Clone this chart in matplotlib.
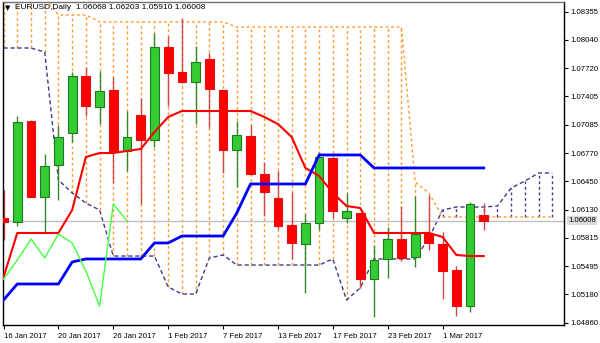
import matplotlib.pyplot as plt
import numpy as np

plt.rcParams['font.family'] = ['Liberation Sans', 'DejaVu Sans']

# daily bars, 16 Jan 2017 .. 6 Mar 2017
opens = [1.06040, 1.05995, 1.07130, 1.06276, 1.06635, 1.06995, 1.07636, 1.07287, 1.07478,
         1.06793, 1.07197, 1.06916, 1.07962, 1.07681, 1.07568, 1.07827, 1.07478, 1.06804,
         1.06961, 1.06534, 1.06264, 1.05961, 1.05747, 1.05983, 1.06714, 1.06040, 1.06096,
         1.05354, 1.05579, 1.05804, 1.05601, 1.05860, 1.05747, 1.05455, 1.05050, 1.06068]
highs = [1.06354, 1.07186, 1.07141, 1.06759, 1.07085, 1.07681, 1.07737, 1.07692, 1.07624,
         1.07242, 1.07388, 1.08119, 1.08085, 1.08288, 1.07973, 1.07894, 1.07478, 1.07130,
         1.07085, 1.06669, 1.06568, 1.06332, 1.06085, 1.06781, 1.06725, 1.06321, 1.06096,
         1.05736, 1.05938, 1.06174, 1.06287, 1.06298, 1.05882, 1.05500, 1.06219, 1.06203]
lows = [1.05792, 1.05950, 1.06270, 1.05871, 1.06242, 1.06894, 1.07186, 1.07096, 1.06433,
        1.06568, 1.06197, 1.06838, 1.07298, 1.07560, 1.07096, 1.07051, 1.06545, 1.06388,
        1.06525, 1.06062, 1.05916, 1.05579, 1.05197, 1.05905, 1.06040, 1.05983, 1.05253,
        1.04927, 1.05365, 1.05556, 1.05489, 1.05680, 1.05129, 1.04938, 1.04983, 1.05910]
closes = [1.05995, 1.07119, 1.06276, 1.06624, 1.06950, 1.07636, 1.07298, 1.07467, 1.06793,
          1.06950, 1.06916, 1.07962, 1.07669, 1.07568, 1.07793, 1.07490, 1.06804, 1.06972,
          1.06534, 1.06332, 1.05950, 1.05759, 1.05983, 1.06725, 1.06118, 1.06118, 1.05354,
          1.05567, 1.05804, 1.05590, 1.05860, 1.05759, 1.05444, 1.05050, 1.06197, 1.06008]

tenkan = [1.05376, 1.05871, 1.05871, 1.05871, 1.05871, 1.06129, 1.06725, 1.06770, 1.06770,
          1.06793, 1.06815, 1.07006, 1.07175, 1.07242, 1.07242, 1.07242, 1.07242, 1.07242,
          1.07242, 1.07175, 1.07096, 1.06950, 1.06602, 1.06512, 1.06321, 1.06174, 1.06152,
          1.05871, 1.05871, 1.05871, 1.05871, 1.05871, 1.05826, 1.05624, 1.05612, 1.05612]
kijun = [1.05118, 1.05298, 1.05298, 1.05298, 1.05298, 1.05545, 1.05579, 1.05579, 1.05579,
         1.05579, 1.05579, 1.05759, 1.05759, 1.05837, 1.05837, 1.05837, 1.05837, 1.06096,
         1.06422, 1.06422, 1.06422, 1.06422, 1.06422, 1.06748, 1.06748, 1.06748, 1.06748,
         1.06602, 1.06602, 1.06602, 1.06602, 1.06602, 1.06602, 1.06602, 1.06602, 1.06602]
# cloud runs 5 bars past the last candle
span_a = [1.08520, 1.08520, 1.08520, 1.08520, 1.08321, 1.08321, 1.08321, 1.08243, 1.08243,
          1.08243, 1.08243, 1.08243, 1.08243, 1.08243, 1.08243, 1.08243, 1.08243, 1.08186,
          1.08186, 1.08186, 1.08186, 1.08186, 1.08186, 1.08186, 1.08186, 1.08186, 1.08186,
          1.08186, 1.08186, 1.08186, 1.06444, 1.06321, 1.06051, 1.06051, 1.06051, 1.06051,
          1.06051, 1.06051, 1.06051, 1.06051, 1.06051]
span_b = [1.07950, 1.07950, 1.07950, 1.07905, 1.06467, 1.06321, 1.06208, 1.06129, 1.05612,
          1.05612, 1.05612, 1.05612, 1.05264, 1.05185, 1.05185, 1.05590, 1.05624, 1.05511,
          1.05511, 1.05511, 1.05511, 1.05511, 1.05511, 1.05511, 1.05579, 1.05118, 1.05253,
          1.05579, 1.05579, 1.05579, 1.05579, 1.05815, 1.06129, 1.06163, 1.06163, 1.06163,
          1.06174, 1.06377, 1.06455, 1.06545, 1.06545]

date_labels = ["16 Jan 2017", "20 Jan 2017", "26 Jan 2017", "1 Feb 2017", "7 Feb 2017",
               "13 Feb 2017", "17 Feb 2017", "23 Feb 2017", "1 Mar 2017"]
price_ticks = [1.08355, 1.08040, 1.07720, 1.07405, 1.07085, 1.06770, 1.06450, 1.06130,
               1.05815, 1.05495, 1.05180, 1.04860]
bid = 1.06008
chikou_shift = 26

fig = plt.figure(figsize=(6, 3.43), dpi=100)
ax = fig.add_axes([3 / 600, 18 / 343, 561 / 600, 323 / 343])

n = len(closes)
x = np.arange(n)
xc = np.arange(len(span_a))
sa = np.array(span_a)
sb = np.array(span_b)

# cloud: dotted verticals between the spans
up = sa >= sb
ax.vlines(xc[up], sb[up], sa[up], colors='#ff9a2e', linestyles=(0, (2, 2)), lw=1, zorder=1)
ax.vlines(xc[~up], sa[~up], sb[~up], colors='#3c3c8c', linestyles=(0, (2, 2)), lw=1, zorder=1)
ax.plot(xc, sa, color='#ff9a2e', ls=(0, (2, 2)), lw=1, zorder=1)
ax.plot(xc, sb, color='#3c3c8c', ls=(0, (3, 2)), lw=1, zorder=1)

ax.axhline(bid, color='#c0c0c0', lw=1, zorder=1.5)

# candles
o = np.array(opens)
c = np.array(closes)
bull = c >= o
ax.vlines(x[bull], np.array(lows)[bull], np.array(highs)[bull], color='#2e8b2e', lw=1, zorder=2)
ax.vlines(x[~bull], np.array(lows)[~bull], np.array(highs)[~bull], color='#d04848', lw=1, zorder=2)
body_lo = np.minimum(o, c)
body_h = np.maximum(np.abs(c - o), 0.00004)
ax.bar(x[bull], body_h[bull], 0.64, bottom=body_lo[bull], color='#33cc33',
       edgecolor='#1f7a1f', lw=0.8, zorder=3)
ax.bar(x[~bull], body_h[~bull], 0.64, bottom=body_lo[~bull], color='#ff0000',
       edgecolor='#e01010', lw=0.8, zorder=3)

# ichimoku lines
ax.plot(x, tenkan, color='#ff0000', lw=1.5, zorder=4)
ax.plot(x, kijun, color='#0000ff', lw=2, zorder=4)
chikou = closes[chikou_shift:]
ax.plot(np.arange(len(chikou)), chikou, color='#44ff44', lw=1, zorder=4)

ax.set_xlim(-0.04, 40.85)
ax.set_ylim(1.04837, 1.08467)

ax.set_xticks(x[::4][:len(date_labels)], date_labels, ha='left')
ax.yaxis.tick_right()
ax.set_yticks(price_ticks, [f"{p:.5f}" for p in price_ticks])
ax.tick_params(axis='both', labelsize=5.6, length=3, width=0.8, color='black', pad=1.5)
ax.tick_params(axis='x', pad=2.5)
for lab in ax.get_yticklabels():
    lab.set_horizontalalignment('left')

for s in ax.spines.values():
    s.set_color('black')
    s.set_linewidth(1)
ax.spines['top'].set_color('#707070')

ax.annotate(f"{bid:.5f}", xy=(1.0, bid), xycoords=('axes fraction', 'data'),
            xytext=(3.2, 0), textcoords='offset points', va='center', ha='left',
            fontsize=5.6, color='black',
            bbox=dict(boxstyle='square,pad=0.15', fc='#dcdcdc', ec='none'))

ax.text(0.004, 0.982, "\u25bc", transform=ax.transAxes, fontsize=5, va='center',
        ha='left', family=['DejaVu Sans'])
ax.text(0.022, 0.982, f"EURUSD,Daily  {opens[-1]:.5f} {highs[-1]:.5f} {lows[-1]:.5f} {closes[-1]:.5f}",
        transform=ax.transAxes, fontsize=6.0, va='center', ha='left', color='black')

fig.savefig('out.png', dpi=100)
